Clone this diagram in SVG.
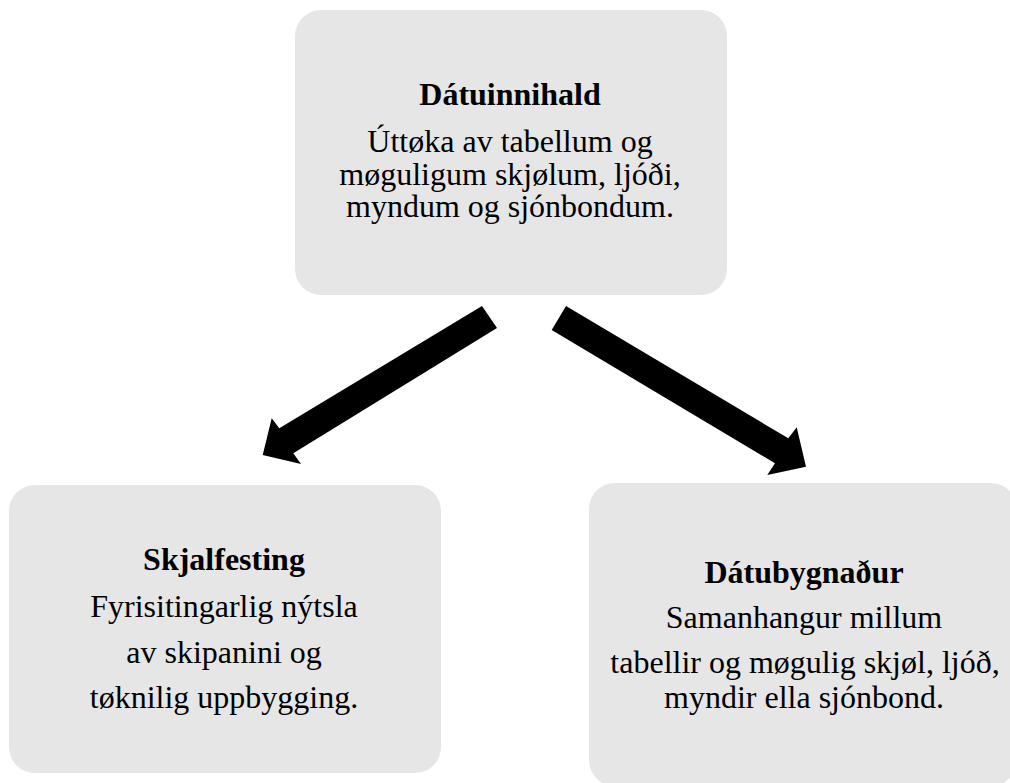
<svg xmlns="http://www.w3.org/2000/svg" width="1010" height="783" viewBox="0 0 1010 783">
<style>
.box{fill:#e6e6e6;}
.t{font-family:"Liberation Serif","Times New Roman",serif;font-size:32px;fill:#000;text-anchor:middle;}
.b{font-weight:bold;}
.arr{fill:#000;}
</style>
<rect width="1010" height="783" fill="#fff"/>
<g id="connectors">
<polygon class="arr" points="482,306 497,328 293.3,453.3 301,464 262.7,455 271.7,418.3 279.3,428.3"/>
<polygon class="arr" points="566,306 551.7,330 775,463.3 767.3,475 806,466.7 796.7,427.3 788.3,438.3"/>
</g>
<g id="node-datuinnihald">
<rect class="box" x="295" y="10" width="432" height="285" rx="26"/>
<text class="t b" x="510" y="105">Dátuinnihald</text>
<text class="t" x="510" y="152">Úttøka av tabellum og</text>
<text class="t" x="510" y="185">møguligum skjølum, ljóði,</text>
<text class="t" x="510" y="217">myndum og sjónbondum.</text>
</g>
<g id="node-skjalfesting">
<rect class="box" x="9" y="485" width="432" height="288" rx="26"/>
<text class="t b" x="224" y="570">Skjalfesting</text>
<text class="t" x="224" y="617">Fyrisitingarlig nýtsla</text>
<text class="t" x="224" y="663">av skipanini og</text>
<text class="t" x="224" y="708">tøknilig uppbygging.</text>
</g>
<g id="node-datubygnadur">
<rect class="box" x="589" y="483" width="428" height="303" rx="26"/>
<text class="t b" x="804" y="583">Dátubygnaður</text>
<text class="t" x="804" y="628">Samanhangur millum</text>
<text class="t" x="805" y="673">tabellir og møgulig skjøl, ljóð,</text>
<text class="t" x="804" y="708">myndir ella sjónbond.</text>
</g>
</svg>
